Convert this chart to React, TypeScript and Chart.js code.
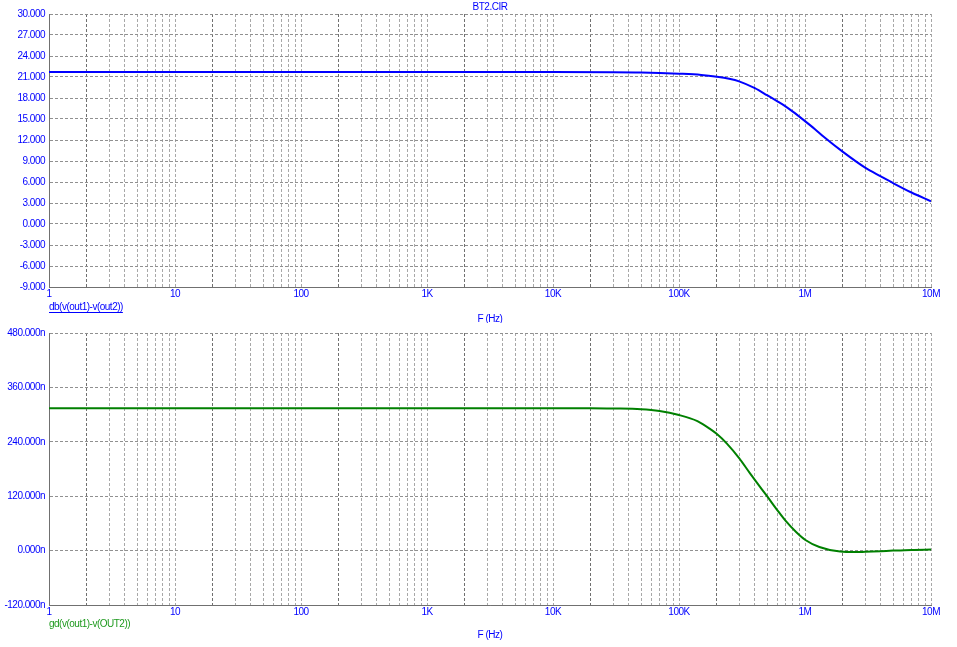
import React, { useEffect, useRef } from "react";
import { Chart, registerables } from "chart.js";

Chart.register(...registerables);

// ---- Data ----
const GAIN_FREQ_HZ = [1, 10, 100, 1e3, 1e4, 3e4, 5e4, 1e5, 1.5e5, 2e5, 2.5e5, 3e5, 4e5, 5e5, 6e5, 7e5, 8e5, 1e6, 1.2e6, 1.4e6, 2e6, 3e6, 4e6, 5e6, 7e6, 1e7];
const GAIN_DB = [21.7, 21.7, 21.7, 21.7, 21.7, 21.69, 21.65, 21.47, 21.3, 21.04, 20.75, 20.38, 19.4, 18.4, 17.55, 16.8, 16.05, 14.7, 13.55, 12.5, 10.3, 8.05, 6.8, 5.85, 4.5, 3.25];

const DELAY_FREQ_HZ = [1, 10, 100, 1e3, 1e4, 2e4, 3e4, 5e4, 7e4, 1e5, 1.4e5, 1.75e5, 2e5, 2.4e5, 3e5, 3.65e5, 4.15e5, 5e5, 6e5, 7e5, 8.5e5, 1e6, 1.3e6, 1.9e6, 2.5e6, 3e6, 4e6, 5e6, 7e6, 1e7];
const DELAY_NS = [314, 314, 314, 314, 314, 314, 313.5, 312, 308, 299, 285.5, 269, 257, 236, 204, 171, 150, 120, 90, 66, 41, 24, 8, -2.2, -3.3, -2.6, -1.2, 0, 1.5, 2.2];

const X_DECADES = [1, 10, 100, 1e3, 1e4, 1e5, 1e6, 1e7];
const X_TICK_LABELS = ["1", "10", "100", "1K", "10K", "100K", "1M", "10M"];

const GAIN_Y = { min: -9, max: 30, step: 3 };
const DELAY_Y = { min: -120, max: 480, step: 120 };

const TITLE = "BT2.CIR";
const GAIN_LABEL = "db(v(out1)-v(out2))";
const DELAY_LABEL = "gd(v(out1)-v(OUT2))";
const X_TITLE = "F (Hz)";

// ---- Styling ----
const W = 957;
const FONT = "Liberation Sans, Arial, sans-serif";
const BLUE = "#0000ff";
const GREEN_LINE = "#008000";
const GREEN_TEXT = "#1f9a1f";
const SPACING = "-0.5px";

function allLogTicks() {
  const t: number[] = [];
  for (let k = 0; k < 7; k++) {
    for (let m = 1; m <= 9; m++) t.push(m * Math.pow(10, k));
  }
  t.push(1e7);
  return t;
}

function labelFor(v: number) {
  const i = X_DECADES.findIndex((d) => Math.abs(d - v) / d < 1e-6);
  return i >= 0 ? X_TICK_LABELS[i] : "";
}

function mantissa(v: number) {
  return Math.round(v / Math.pow(10, Math.floor(Math.log10(v) + 1e-9)));
}

type Cfg = {
  xs: number[];
  ys: number[];
  color: string;
  y: { min: number; max: number; step: number };
  suffix: string;
  height: number;
  plotTop: number;
  plotBottom: number;
  seriesLabel: string;
  labelColor: string;
  underline: boolean;
  labelY: number;
  xTitleY: number;
  title?: string;
};

function makeChart(canvas: HTMLCanvasElement, c: Cfg) {
  const textPlugin = {
    id: "texts",
    beforeDraw(chart: any) {
      (chart.ctx as any).letterSpacing = SPACING;
    },
    afterDraw(chart: any) {
      const ctx = chart.ctx as CanvasRenderingContext2D;
      const area = chart.chartArea;
      ctx.save();
      (ctx as any).letterSpacing = SPACING;
      ctx.font = `10px ${FONT}`;
      ctx.textBaseline = "middle";
      if (c.title) {
        ctx.fillStyle = BLUE;
        ctx.textAlign = "center";
        ctx.fillText(c.title, (area.left + area.right) / 2, 7);
      }
      ctx.textAlign = "left";
      ctx.fillStyle = c.labelColor;
      ctx.fillText(c.seriesLabel, area.left, c.labelY);
      if (c.underline) {
        const w = ctx.measureText(c.seriesLabel).width;
        ctx.strokeStyle = c.labelColor;
        ctx.lineWidth = 1;
        ctx.beginPath();
        ctx.moveTo(area.left, Math.round(c.labelY + 5) + 0.5);
        ctx.lineTo(area.left + w, Math.round(c.labelY + 5) + 0.5);
        ctx.stroke();
      }
      ctx.fillStyle = BLUE;
      ctx.textAlign = "center";
      ctx.fillText(X_TITLE, (area.left + area.right) / 2, c.xTitleY);
      ctx.restore();
      (ctx as any).letterSpacing = "0px";
    },
  };

  return new Chart(canvas, {
    type: "line",
    data: {
      datasets: [
        {
          data: c.xs.map((x, i) => ({ x, y: c.ys[i] })),
          borderColor: c.color,
          borderWidth: 2,
          pointRadius: 0,
          cubicInterpolationMode: "monotone",
          fill: false,
        },
      ],
    },
    options: {
      responsive: false,
      animation: false,
      devicePixelRatio: 1,
      layout: { padding: { left: 0, right: W - 931, top: c.plotTop, bottom: 0 } },
      plugins: { legend: { display: false }, tooltip: { enabled: false }, title: { display: false } },
      scales: {
        x: {
          type: "logarithmic",
          min: 1,
          max: 1e7,
          afterBuildTicks: (scale: any) => {
            scale.ticks = allLogTicks().map((v) => ({ value: v }));
          },
          afterFit: (scale: any) => {
            scale.height = c.height - c.plotBottom;
          },
          ticks: {
            autoSkip: false,
            maxRotation: 0,
            padding: 1,
            color: BLUE,
            font: { family: FONT, size: 10 },
            callback: (v: any) => labelFor(Number(v)),
          },
          grid: {
            drawTicks: false,
            color: (ctx: any) => {
              const v = ctx.tick ? ctx.tick.value : 1;
              return mantissa(v) === 2 ? "#707070" : "#a8a8a8";
            },
            lineWidth: 1,
          },
          border: { display: true, color: "#707070", width: 1, dash: [3, 2] },
        },
        y: {
          type: "linear",
          min: c.y.min,
          max: c.y.max,
          afterFit: (scale: any) => {
            scale.width = 49;
          },
          ticks: {
            stepSize: c.y.step,
            padding: 4,
            color: BLUE,
            font: { family: FONT, size: 10 },
            callback: (v: any) => Number(v).toFixed(3) + c.suffix,
          },
          grid: { drawTicks: false, color: "#909090", lineWidth: 1 },
          border: { display: true, color: "#707070", width: 1, dash: [3, 2] },
        },
      },
    },
    plugins: [textPlugin],
  } as any);
}

export default function App() {
  const topRef = useRef<HTMLCanvasElement>(null);
  const botRef = useRef<HTMLCanvasElement>(null);

  useEffect(() => {
    const a = makeChart(topRef.current!, {
      xs: GAIN_FREQ_HZ,
      ys: GAIN_DB,
      color: BLUE,
      y: GAIN_Y,
      suffix: "",
      height: 323,
      plotTop: 14,
      plotBottom: 287,
      seriesLabel: GAIN_LABEL,
      labelColor: BLUE,
      underline: true,
      labelY: 307,
      xTitleY: 319,
      title: TITLE,
    });
    const b = makeChart(botRef.current!, {
      xs: DELAY_FREQ_HZ,
      ys: DELAY_NS,
      color: GREEN_LINE,
      y: DELAY_Y,
      suffix: "n",
      height: 324,
      plotTop: 7,
      plotBottom: 282,
      seriesLabel: DELAY_LABEL,
      labelColor: GREEN_TEXT,
      underline: false,
      labelY: 301,
      xTitleY: 312,
    });
    return () => {
      a.destroy();
      b.destroy();
    };
  }, []);

  return (
    <div style={{ position: "absolute", left: 0, top: 0, width: W, height: 647, background: "#fff" }}>
      <canvas ref={topRef} width={W} height={323} style={{ position: "absolute", left: 0, top: 0 }} />
      <canvas ref={botRef} width={W} height={324} style={{ position: "absolute", left: 0, top: 323 }} />
    </div>
  );
}
